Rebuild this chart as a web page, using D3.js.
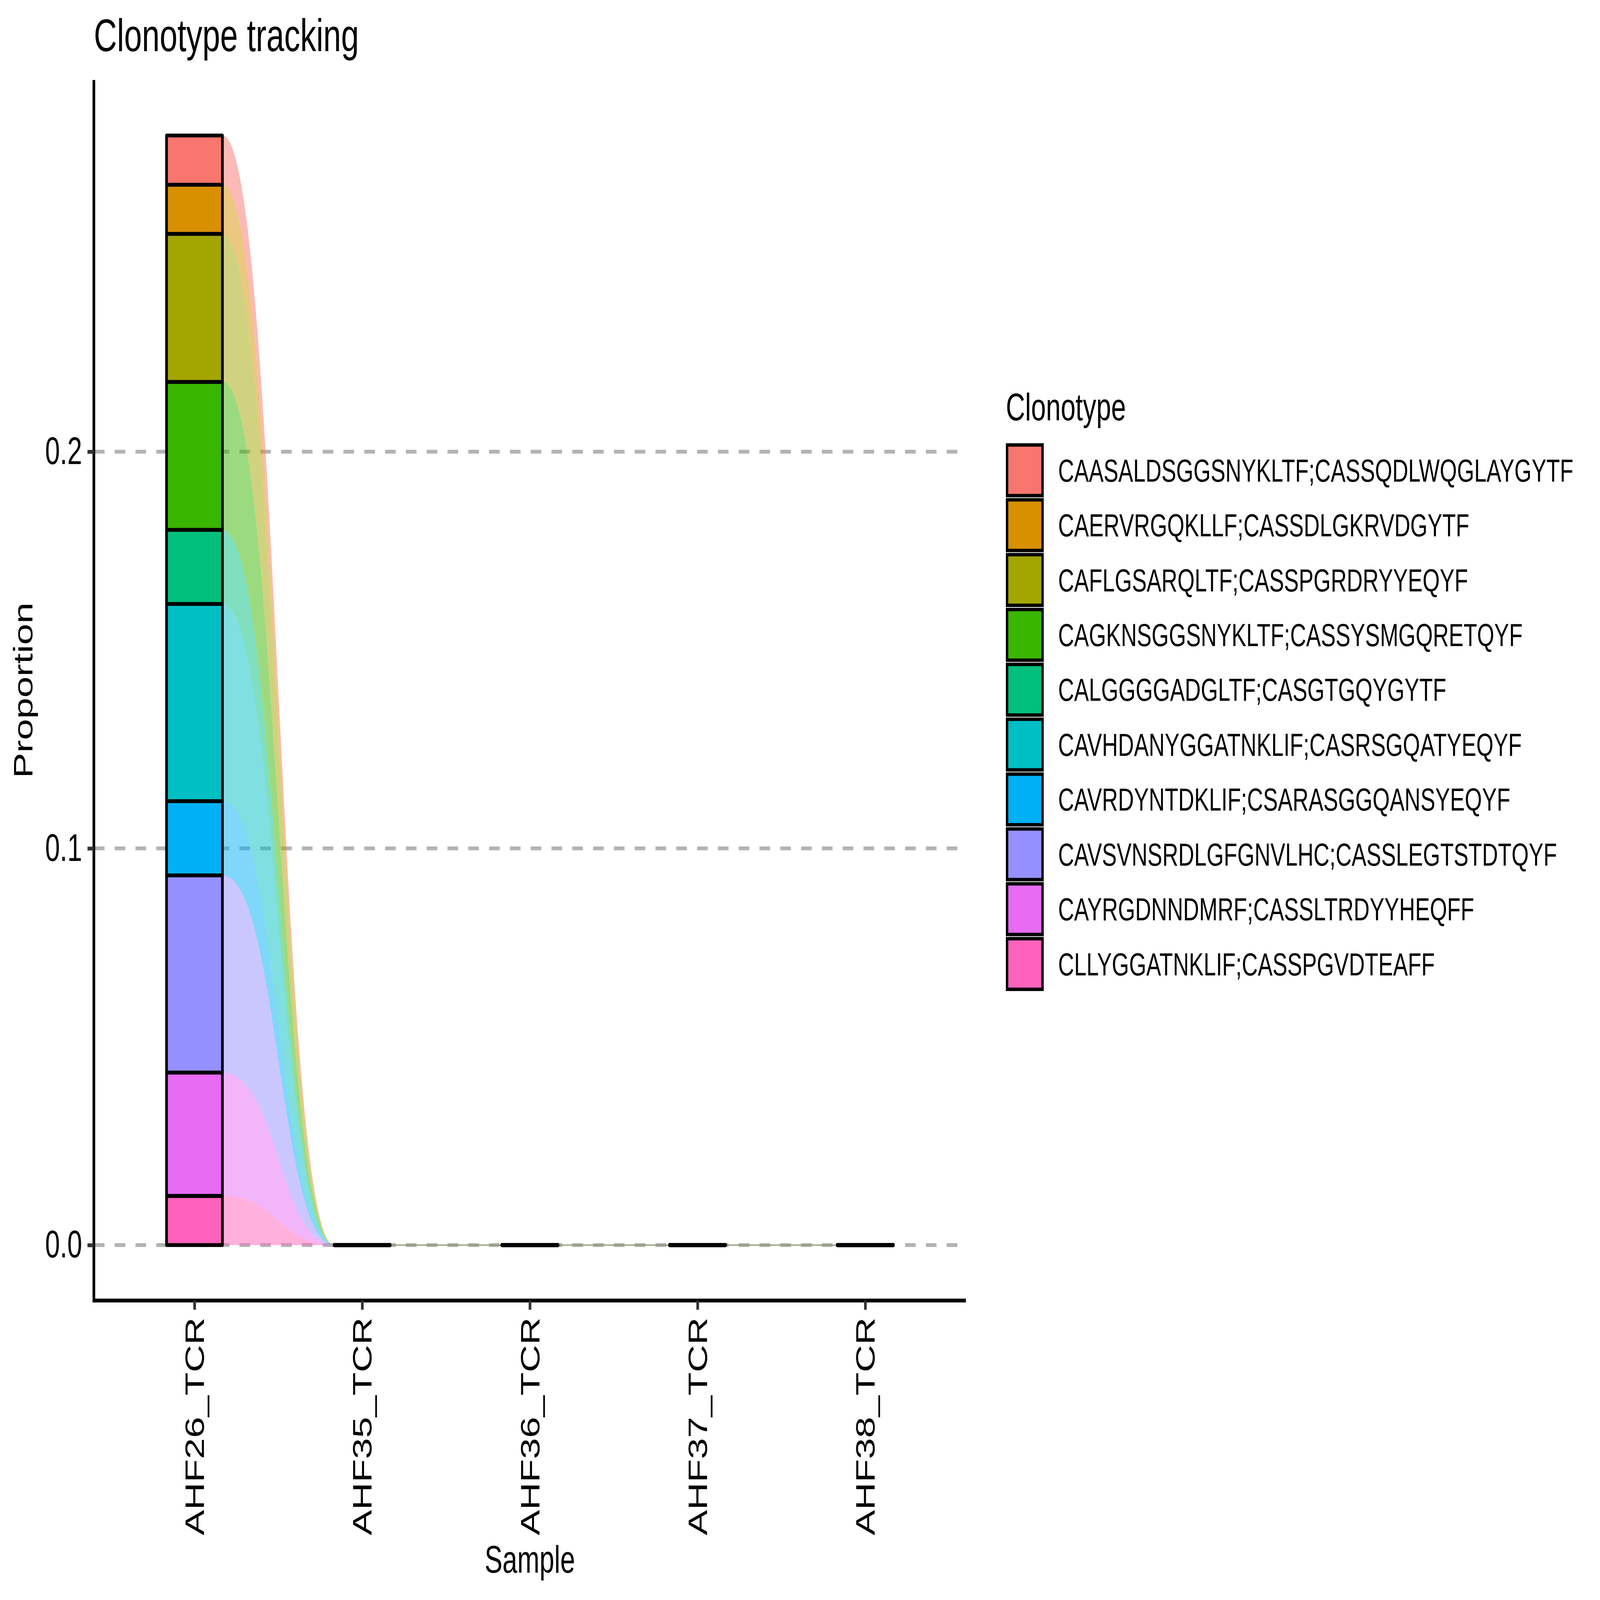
<!DOCTYPE html>
<html>
<head>
<meta charset="utf-8">
<script src="https://cdn.jsdelivr.net/npm/d3@7"></script>
<style>
  html, body { margin: 0; padding: 0; background: #fff; overflow: hidden; }
  svg { display: block; width: 100vw; height: 100vh; font-family: "Liberation Sans", Arial, Helvetica, sans-serif; }
</style>
</head>
<body>
<svg id="chart"></svg>
<script>
//* data
const samples = ["AHF26_TCR", "AHF35_TCR", "AHF36_TCR", "AHF37_TCR", "AHF38_TCR"];
const clonotypes = [
	"CAASALDSGGSNYKLTF;CASSQDLWQGLAYGYTF",
	"CAERVRGQKLLF;CASSDLGKRVDGYTF",
	"CAFLGSARQLTF;CASSPGRDRYYEQYF",
	"CAGKNSGGSNYKLTF;CASSYSMGQRETQYF",
	"CALGGGGADGLTF;CASGTGQYGYTF",
	"CAVHDANYGGATNKLIF;CASRSGQATYEQYF",
	"CAVRDYNTDKLIF;CSARASGGQANSYEQYF",
	"CAVSVNSRDLGFGNVLHC;CASSLEGTSTDTQYF",
	"CAYRGDNNDMRF;CASSLTRDYYHEQFF",
	"CLLYGGATNKLIF;CASSPGVDTEAFF"
];
const propAHF26 = [0.0124, 0.0124, 0.0373, 0.0373, 0.0187, 0.0497, 0.0187, 0.0497, 0.0311, 0.0124];
const propAHF35 = [0, 0, 0, 0, 0, 0, 0, 0, 0, 0];
const propAHF36 = [0, 0, 0, 0, 0, 0, 0, 0, 0, 0];
const propAHF37 = [0, 0, 0, 0, 0, 0, 0, 0, 0, 0];
const propAHF38 = [0, 0, 0, 0, 0, 0, 0, 0, 0, 0];
const yTicks = [0, 0.1, 0.2];
const colors = ["#F8766D", "#D89000", "#A3A500", "#39B600", "#00BF7D",
	"#00BFC4", "#00B0F6", "#9590FF", "#E76BF3", "#FF62BC"];

//* table for stacking
const propBySample = [propAHF26, propAHF35, propAHF36, propAHF37, propAHF38];
const table = samples.map((s, i) => {
	const row = { sample: s };
	clonotypes.forEach((c, j) => (row[c] = propBySample[i][j]));
	return row;
});
// first clonotype on top, so stack from the last one up
const series = d3.stack().keys(clonotypes.slice().reverse())(table);

//* svg (drawn in 6000x4200 units, stretched to the window)
const W = 6000, H = 4200;
const svg = d3.select("#chart")
	.attr("viewBox", `0 0 ${W} ${H}`)
	.attr("preserveAspectRatio", "none");
svg.append("rect").attr("width", W).attr("height", H).attr("fill", "#fff");

const panel = { left: 352, right: 3622, top: 210, bottom: 3414 };

//* scales
const total = d3.max(series[series.length - 1], (d) => d[1]);
const pad = total * 0.05;
const y = d3.scaleLinear().domain([-pad, total + pad]).range([panel.bottom, panel.top]);
const x = d3.scalePoint().domain(samples).range([panel.left, panel.right]).padding(0.6);
const halfW = x.step() / 6; // stratum width = 1/3
const color = d3.scaleOrdinal().domain(clonotypes).range(colors);

//* grid
svg.append("g")
	.selectAll("line")
	.data(yTicks)
	.join("line")
	.attr("x1", panel.left)
	.attr("x2", panel.right)
	.attr("y1", (d) => y(d))
	.attr("y2", (d) => y(d))
	.attr("stroke", "#B3B3B3")
	.attr("stroke-width", 10)
	.attr("stroke-dasharray", "40 38");

//* flows
const k = 0.5;
function flowPath(xa, xb, a0, a1, b0, b1) {
	const g = xb - xa;
	const c1 = xa + g * k, c2 = xb - g * k;
	return `M${xa},${y(a1)}C${c1},${y(a1)} ${c2},${y(b1)} ${xb},${y(b1)}` +
		`L${xb},${y(b0)}C${c2},${y(b0)} ${c1},${y(a0)} ${xa},${y(a0)}Z`;
}
const flows = [];
series.forEach((s) => {
	for (let i = 0; i < samples.length - 1; i++) {
		flows.push({
			key: s.key,
			xa: x(samples[i]) + halfW,
			xb: x(samples[i + 1]) - halfW,
			a: s[i],
			b: s[i + 1]
		});
	}
});
svg.append("g")
	.selectAll("path")
	.data(flows)
	.join("path")
	.attr("d", (d) => flowPath(d.xa, d.xb, d.a[0], d.a[1], d.b[0], d.b[1]))
	.attr("fill", (d) => color(d.key))
	.attr("fill-opacity", 0.5)
	// empty flows still leave a hairline, like in the reference
	.attr("stroke", (d) => (d.a[1] - d.a[0] + d.b[1] - d.b[0] === 0 ? color(d.key) : "none"))
	.attr("stroke-opacity", 0.12)
	.attr("stroke-width", 4);

//* strata
const strata = [];
series.forEach((s) => s.forEach((d, i) => strata.push({ key: s.key, sample: samples[i], y0: d[0], y1: d[1] })));
svg.append("g")
	.selectAll("path")
	.data(strata)
	.join("path")
	.attr("d", (d) => {
		const x0 = x(d.sample) - halfW, x1 = x(d.sample) + halfW;
		return `M${x0},${y(d.y0)}H${x1}V${y(d.y1)}H${x0}Z`;
	})
	.attr("fill", (d) => color(d.key))
	.attr("stroke", "#000")
	.attr("stroke-width", 10)
	.attr("stroke-linejoin", "round");

//* axes
const yAxis = svg.append("g")
	.attr("transform", `translate(${panel.left},0)`)
	.call(d3.axisLeft(y).tickValues(yTicks).tickFormat(d3.format(".1f"))
		.tickSizeInner(24).tickSizeOuter(0).tickPadding(20));
const xAxis = svg.append("g")
	.attr("transform", `translate(0,${panel.bottom})`)
	.call(d3.axisBottom(x).tickSizeInner(24).tickSizeOuter(0).tickPadding(20));

[yAxis, xAxis].forEach((ax) => {
	ax.select(".domain").attr("stroke", "#000").attr("stroke-width", 10);
	ax.selectAll(".tick line").attr("stroke", "#333333").attr("stroke-width", 10);
	ax.selectAll(".tick text")
		.attr("font-size", 100)
		.attr("font-family", "Liberation Sans, Arial, sans-serif")
		.attr("fill", "#000");
});
yAxis.select(".domain").attr("d", `M0,${panel.top}V${panel.bottom + 5}`);
xAxis.select(".domain").attr("d", `M${panel.left},0H${panel.right}`);
xAxis.selectAll(".tick text")
	.attr("transform", "rotate(-90)")
	.attr("x", -44)
	.attr("y", 0)
	.attr("dy", "0.35em")
	.style("text-anchor", "end");

//* titles
svg.append("text")
	.attr("x", panel.left)
	.attr("y", 134)
	.attr("font-size", 120)
	.text("Clonotype tracking");
svg.append("text")
	.attr("x", (panel.left + panel.right) / 2)
	.attr("y", 4128)
	.attr("font-size", 100)
	.attr("text-anchor", "middle")
	.text("Sample");
svg.append("text")
	.attr("transform", `translate(122,${(panel.top + panel.bottom) / 2}) rotate(-90)`)
	.attr("font-size", 100)
	.attr("text-anchor", "middle")
	.text("Proportion");

//* legend
const legend = svg.append("g").attr("transform", "translate(3772,0)");
legend.append("text")
	.attr("x", 0)
	.attr("y", 1103)
	.attr("font-size", 100)
	.text("Clonotype");
const keyRows = legend.selectAll("g.key")
	.data(clonotypes)
	.join("g")
	.attr("class", "key")
	.attr("transform", (_, i) => `translate(0, ${1163 + i * 144})`);
keyRows.append("rect")
	.attr("x", 4.5)
	.attr("y", 5)
	.attr("width", 133)
	.attr("height", 133)
	.attr("fill", (d) => color(d))
	.attr("stroke", "#000")
	.attr("stroke-width", 9);
keyRows.append("text")
	.attr("x", 196)
	.attr("y", 72)
	.attr("dy", "0.35em")
	.attr("font-size", 83)
	.text((d) => d);
</script>
</body>
</html>
